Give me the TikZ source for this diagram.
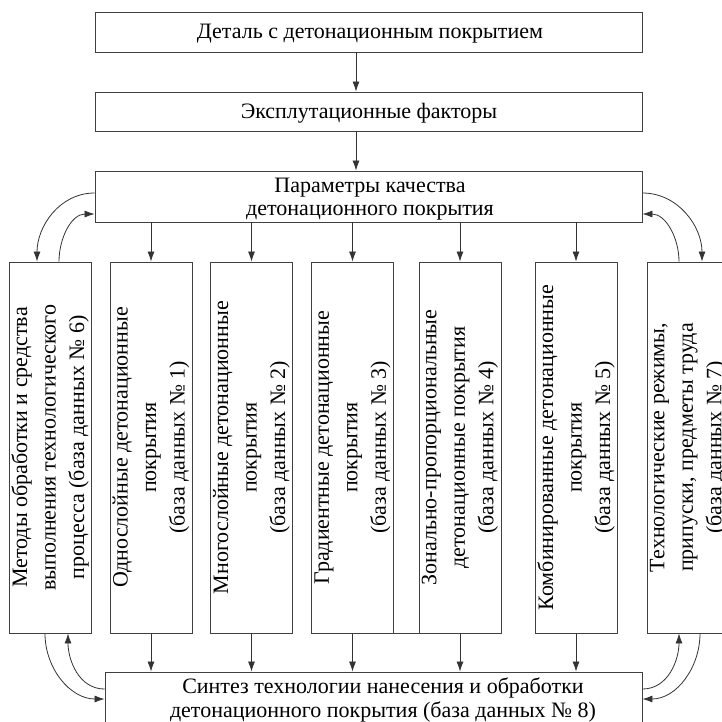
\documentclass[tikz,border=0pt]{standalone}
\usepackage{fontspec}
\setmainfont{Liberation Serif}
\usetikzlibrary{arrows.meta}
\begin{document}
\begin{tikzpicture}[x=1pt,y=-1pt,
  box/.style={draw=black!75, line width=0.9pt, rectangle, inner sep=0pt},
  hbox/.style={box, minimum width=547pt},
  col/.style={box, minimum width=82pt, minimum height=371pt},
  txt/.style={font=\fontsize{22}{28.5}\selectfont, align=center},
  tighttxt/.style={font=\fontsize{22}{23.5}\selectfont, align=center},
  vtxt/.style={txt, rotate=90},
  arr/.style={draw=black!80, line width=0.8pt, -{Latex[length=10pt,width=7pt]}}
]
\useasboundingbox (0,0) rectangle (722,721);
\clip (0,0) rectangle (722,721);
\fill[white] (0,0) rectangle (722,721);

\node[hbox, minimum height=40pt] (top) at (368.5,32) {};
\node[txt] (toptxt) at (370,34) {Деталь с детонационным покрытием};
\node[hbox, minimum height=39pt] (exp) at (368.5,111.5) {};
\node[txt] (exptxt) at (369,113.5) {Эксплутационные факторы};
\node[hbox, minimum height=51pt] (par) at (368.5,196.5) {};
\node[tighttxt] (partxt) at (370,199) {Параметры качества\\детонационного покрытия};

\node[col] (c1) at (50,447.5) {};
\node[col] (c2) at (151,447.5) {};
\node[col] (c3) at (251.5,447.5) {};
\node[col] (c4) at (352.5,447.5) {};
\node[col] (c5) at (460,447.5) {};
\node[col] (c6) at (576,447.5) {};
\node[col] (c7) at (688,447.5) {};

\node[vtxt] at (c1) {Методы обработки и средства\\выполнения технологического\\процесса (база данных № 6)};
\node[vtxt] at (c2) {Однослойные детонационные\\покрытия\\(база данных № 1)};
\node[vtxt] at (c3) {Многослойные детонационные\\покрытия\\(база данных № 2)};
\node[vtxt] at (c4) {Градиентные детонационные\\покрытия\\(база данных № 3)};
\node[vtxt] at (c5) {Зонально-пропорциональные\\детонационные покрытия\\(база данных № 4)};
\node[vtxt] at (c6) {Комбинированные детонационные\\покрытия\\(база данных № 5)};
\node[vtxt] at (c7) {Технологические режимы,\\припуски, предметы труда\\(база данных № 7)};

\node[box, minimum width=537pt, minimum height=68pt] (bot) at (373.5,706) {};
\node[tighttxt] (bottxt) at (383,700) {Синтез технологии нанесения и обработки\\детонационного покрытия (база данных № 8)};

\draw[arr] ([xshift=-12.5pt]top.south) -- ([xshift=-12.5pt]exp.north);
\draw[arr] ([xshift=-12.5pt]exp.south) -- ([xshift=-12.5pt]par.north);

\foreach \c in {c2,c3,c4,c5,c6}{
  \draw[arr] (par.south -| \c.north) -- (\c.north);
  \draw[arr] (\c.south) -- (\c.south |- bot.north);
}
\draw[draw=black!75, line width=0.9pt] (c4.south east) -- (c5.south west);

% top-left
\draw[arr] ([yshift=3.5pt]par.west) to[out=180,in=90] ([xshift=-13pt]c1.north);
\draw[arr] ([xshift=9pt]c1.north) to[out=90,in=180] ([yshift=-17.5pt]par.west);
% top-right
\draw[arr] ([yshift=3.5pt]par.east) to[out=0,in=90] ([xshift=14pt]c7.north);
\draw[arr] ([xshift=-9pt]c7.north) to[out=90,in=0] ([yshift=-17.5pt]par.east);
% bottom-left
\draw[arr] ([xshift=-5pt]c1.south) to[out=270,in=180] ([yshift=7pt]bot.west);
\draw[arr] ([yshift=17pt]bot.west) to[out=180,in=270] ([xshift=18pt]c1.south);
% bottom-right
\draw[arr] ([yshift=17pt]bot.east) to[out=0,in=270] ([xshift=-9pt]c7.south);
\draw[arr] ([xshift=12pt]c7.south) to[out=270,in=0] ([yshift=7pt]bot.east);
\end{tikzpicture}
\end{document}
